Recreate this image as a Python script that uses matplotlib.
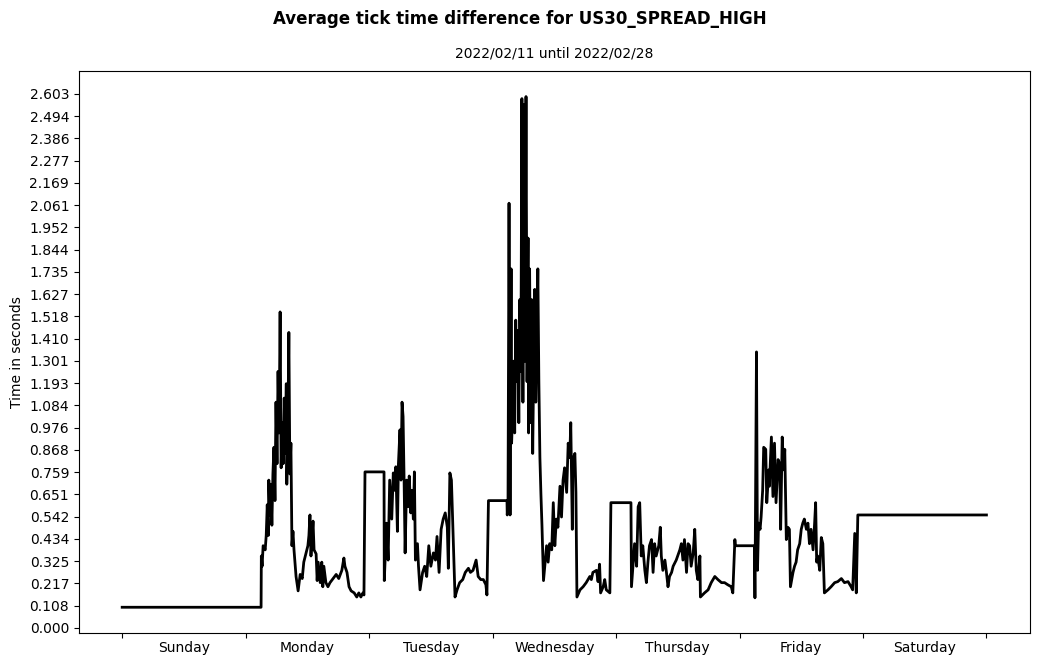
import numpy as np
import matplotlib
matplotlib.use("Agg")
import matplotlib.pyplot as plt

# hours since start of week (Sunday 00:00) and average tick time difference (s)
hours = [
    0.0, 27.0, 27.05, 27.2, 27.4, 27.8, 28.0, 28.2, 28.4, 28.5, 28.7, 28.9, 29.1, 29.3, 29.5, 29.7,
    29.9, 30.1, 30.3, 30.5, 30.7, 30.9, 31.1, 31.3, 31.5, 31.7, 31.9, 32.0, 32.2, 32.4, 32.6, 32.8,
    33.0, 33.2, 33.4, 33.8, 34.2, 34.6, 35.0, 35.3, 35.7, 36.1, 36.3, 36.5, 36.7, 36.9, 37.1, 37.3,
    37.7, 37.9, 38.1, 38.5, 38.8, 39.0, 39.2, 39.6, 40.0, 40.4, 41.0, 41.6, 42.1, 42.7, 43.1, 43.3,
    43.7, 44.1, 44.5, 45.1, 45.6, 46.0, 46.4, 46.8, 47.0, 47.2, 50.9,
    50.95, 51.4, 51.7, 52.0, 52.4, 52.7, 53.0, 53.2, 53.5, 53.7, 54.0, 54.2, 54.4, 54.6, 54.8, 55.0,
    55.3, 55.6, 55.8, 56.1, 56.3, 56.6, 56.8, 57.0, 57.4, 57.6, 57.9, 58.4, 58.8, 59.2, 59.6, 60.0,
    60.5, 60.9, 61.2, 61.6, 62.0, 62.4, 62.8, 63.2, 63.4, 63.7, 64.0, 64.3, 64.7, 65.1, 65.6, 66.2,
    66.7, 67.3, 67.7, 68.2, 68.8, 69.2, 69.7, 70.2, 70.7, 70.9, 71.2, 74.8,
    74.85, 75.0, 75.2, 75.4, 75.6, 75.7, 75.9, 76.1, 76.3, 76.5, 76.7, 76.9, 77.1, 77.3, 77.5, 77.7,
    77.9, 78.1, 78.3, 78.5, 78.7, 78.9, 79.0, 79.2, 79.4, 79.6, 79.8, 80.0, 80.2, 80.4, 80.6, 80.8,
    81.0, 81.2, 81.4, 81.6, 81.9, 82.5, 82.8, 83.1, 83.5, 83.8, 84.1, 84.4, 84.7, 85.1, 85.4, 85.7,
    86.0, 86.4, 86.7, 87.0, 87.2, 87.5, 87.6, 88.0, 88.2, 88.4, 89.0, 89.6, 90.2, 90.9, 91.2, 91.5,
    92.2, 92.5, 92.8, 93.0, 93.5, 93.8, 94.1, 94.8, 95.0, 98.9,
    99.0, 99.6, 100.0, 100.3, 100.6, 100.9, 101.2, 101.6, 101.9, 102.2, 102.5, 102.9, 103.2, 103.5,
    103.8, 104.3, 104.6, 104.8, 105.1, 105.5, 105.8, 106.1, 106.4, 106.8, 107.1, 107.7, 108.4, 108.7,
    109.0, 109.3, 109.7, 110.0, 110.3, 110.6, 111.0, 111.3, 111.6, 111.9, 112.3, 112.4, 113.2, 113.9,
    114.5, 115.2, 115.8, 116.5, 117.1, 117.7, 118.4, 118.7, 119.1, 119.2, 122.9,
    123.0, 123.3, 123.5, 123.7, 124.0, 124.2, 124.5, 124.7, 125.1, 125.3, 125.7, 125.8, 126.2, 126.5,
    126.8, 127.1, 127.5, 127.8, 128.0, 128.3, 128.6, 128.8, 129.1, 129.4, 129.7, 129.9, 130.4, 130.7,
    131.0, 131.3, 131.7, 132.0, 132.3, 132.6, 133.0, 133.3, 133.6, 133.9, 134.3, 134.6, 134.8, 135.0,
    135.2, 135.6, 135.9, 136.2, 136.5, 137.2, 137.8, 138.5, 139.1, 139.8, 140.4, 141.1, 141.7, 142.0,
    142.4, 142.7, 143.0, 168.0,
]
avg_diff = [
    0.10, 0.10, 0.35, 0.30, 0.40, 0.38, 0.45, 0.60, 0.45, 0.72, 0.55, 0.70, 0.50, 0.75, 0.88, 0.62,
    1.10, 0.80, 1.25, 0.95, 1.54, 0.78, 1.00, 0.80, 1.12, 0.85, 1.19, 0.70, 0.95, 1.44, 0.75, 0.90,
    0.40, 0.47, 0.38, 0.25, 0.18, 0.26, 0.24, 0.32, 0.36, 0.40, 0.45, 0.55, 0.35, 0.44, 0.52, 0.38,
    0.36, 0.23, 0.32, 0.22, 0.32, 0.20, 0.30, 0.22, 0.20, 0.22, 0.24, 0.26, 0.24, 0.28, 0.34, 0.30,
    0.27, 0.20, 0.18, 0.17, 0.15, 0.17, 0.15, 0.17, 0.16, 0.76, 0.76,
    0.23, 0.51, 0.33, 0.72, 0.53, 0.755, 0.67, 0.785, 0.47, 0.80, 0.965, 0.72, 1.10, 1.03, 0.72, 0.365,
    0.72, 0.59, 0.74, 0.56, 0.67, 0.53, 0.76, 0.33, 0.41, 0.30, 0.185, 0.27, 0.30, 0.25, 0.40, 0.30,
    0.365, 0.33, 0.445, 0.27, 0.48, 0.53, 0.56, 0.49, 0.29, 0.755, 0.72, 0.48, 0.15, 0.185, 0.22, 0.235,
    0.27, 0.29, 0.27, 0.28, 0.33, 0.25, 0.235, 0.235, 0.21, 0.16, 0.62, 0.62,
    0.55, 0.60, 2.07, 0.55, 1.75, 0.90, 1.05, 1.30, 0.95, 1.50, 1.20, 1.45, 1.00, 1.60, 1.25, 2.58,
    1.10, 2.55, 1.30, 2.59, 1.20, 1.90, 0.95, 1.75, 1.00, 1.60, 0.85, 1.30, 1.65, 1.10, 1.40, 1.75,
    1.20, 0.83, 0.65, 0.50, 0.23, 0.40, 0.32, 0.41, 0.38, 0.61, 0.40, 0.53, 0.49, 0.69, 0.54, 0.72,
    0.78, 0.66, 0.90, 0.83, 1.00, 0.48, 0.82, 0.85, 0.66, 0.15, 0.185, 0.20, 0.22, 0.25, 0.235, 0.27,
    0.28, 0.225, 0.31, 0.17, 0.20, 0.235, 0.185, 0.17, 0.61, 0.61,
    0.20, 0.41, 0.30, 0.59, 0.61, 0.35, 0.40, 0.28, 0.22, 0.32, 0.40, 0.43, 0.27, 0.41,
    0.35, 0.40, 0.49, 0.35, 0.28, 0.33, 0.27, 0.20, 0.25, 0.27, 0.30, 0.33, 0.38, 0.41,
    0.33, 0.43, 0.27, 0.41, 0.40, 0.30, 0.365, 0.48, 0.28, 0.235, 0.35, 0.15, 0.17, 0.185,
    0.22, 0.25, 0.235, 0.22, 0.22, 0.21, 0.20, 0.17, 0.43, 0.40, 0.40,
    0.146, 1.345, 0.28, 0.51, 0.48, 0.54, 0.67, 0.88, 0.87, 0.61, 0.77, 0.69, 0.93, 0.64,
    0.90, 0.61, 0.82, 0.80, 0.48, 0.93, 0.77, 0.87, 0.43, 0.49, 0.48, 0.20, 0.27, 0.30,
    0.32, 0.38, 0.41, 0.48, 0.51, 0.53, 0.48, 0.51, 0.41, 0.48, 0.38, 0.51, 0.61, 0.32,
    0.35, 0.28, 0.44, 0.41, 0.17, 0.185, 0.20, 0.22, 0.225, 0.24, 0.22, 0.225, 0.20, 0.185,
    0.46, 0.17, 0.55, 0.55,
]
days = ["Sunday", "Monday", "Tuesday", "Wednesday", "Thursday", "Friday", "Saturday"]
y_top = 2.60277

fig = plt.figure(figsize=(10.39, 6.64), dpi=100)
ax = fig.add_axes([0.076, 0.047, 0.915, 0.846])
ax.plot(hours, avg_diff, color="black", linewidth=2)

ax.set_xticks(np.arange(0, 169, 24))
ax.set_xticklabels([])
ax.set_xticks(np.arange(12, 168, 24), minor=True)
ax.set_xticklabels(days, minor=True)
ax.tick_params(axis="x", which="minor", length=0, pad=6.2)

yt = np.linspace(0, y_top, 25)
ax.set_yticks(yt)
ax.set_yticklabels(["%.3f" % v for v in yt])
ax.set_ylabel("Time in seconds")

fig.suptitle("Average tick time difference for US30_SPREAD_HIGH", fontweight="bold", fontsize=12, y=0.985)
ax.set_title("2022/02/11 until 2022/02/28", fontsize=10, pad=10)

fig.savefig("out.png", dpi=100)
